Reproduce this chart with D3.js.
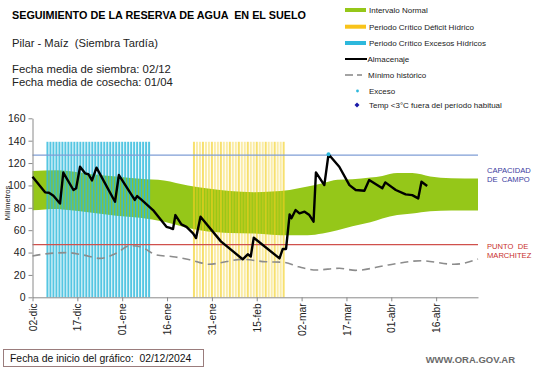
<!DOCTYPE html>
<html><head><meta charset="utf-8">
<script src="https://cdn.jsdelivr.net/npm/d3@7"></script>
<style>
html,body{margin:0;padding:0;background:#fff;}
svg{display:block;font-family:"Liberation Sans",Arial,sans-serif;}
</style></head>
<body><svg id="c" width="541" height="368"></svg>
<script>
// ---- data ----
const xTickDays = [0,15,30,45,60,75,90,105,120,135];
const xTickLabels = ["02-dic","17-dic","01-ene","16-ene","31-ene","15-feb","02-mar","17-mar","01-abr","16-abr"];
const yTicks = [0,20,40,60,80,100,120,140,160];

const bandDays  = [0,8,12,20,28,36,44,52,58,66,74,80,86,92,97,102,107,113,117,122,127,133,140,149];
const bandUpper = [113,113.5,113,110,108,106,104.5,100,97.5,95,94,94.5,96,99,102,105,105.5,107,108.5,111,111,108,106.5,106.3];
const bandLower = [77.7,79,78,75.5,73,71,67.5,62,59,57.5,57,56,55.5,55.5,57,60,63.5,67,70.5,73.5,75,77,77.5,77.5];

const minDays = [0,6,11.6,17,22.6,28,32.6,36,41.5,47,52.6,56,59,65,70,78,84,89,95,102.6,108,119,130,141,149];
const minHist = [36.9,39.3,39.9,37.8,34.8,39.3,46.1,45.2,37.8,36.3,33.5,31,29.5,32,33.9,31.8,31.3,27.3,24.4,25.9,24.1,28.9,32.7,29.5,34.2];

const almDays = [0,4.2,5.5,7,9.2,10.3,13.7,14.6,15.9,17.6,18.7,19.9,21.4,27.6,28.9,34.2,35,36.5,40.3,44.8,46,47,47.8,49.8,51.5,53.7,54.7,56.2,63,70.3,72,73,74,82.6,83.7,84.8,86,86.6,88,89.3,91,92.6,94,94.8,97.6,99,102.6,106,108.1,111,112.6,117,118,121.5,124.8,127,129,130.1,132];
const almacenaje = [107.8,93.8,93.5,90.8,83.8,111.5,95.9,97.5,116.7,110.8,110,104.5,115.9,85.4,109.3,87,90.5,87,78,63,62,61,73.5,65.2,63,57.2,53,72,50,34,38.4,36.5,53.3,34.8,43.2,43.2,74.1,70.6,78,75,76.5,73.5,67.6,111.7,100.3,127.8,116.7,100.3,95.9,95.3,104.8,97.4,102.7,95.9,92,91.3,88.4,103.3,99.5];

const excesoDays = [99];
const excesoVals = [127.8];

const periodoExcesoDays = [5,6,7,8,9,10,11,12,13,14,15,16,17,18,19,20,21,22,23,24,25,26,27,28,29,30,31,32,33,34,35,36,37,38,39];
const periodoDeficitDays = [54,55,56,57,58,59,60,61,62,63,64,65,66,67,68,69,70,71,72,73,74,75,76,77,78,79,80,81,82,83,84];
const periodoTop = 139;

const capacidadCampo = 127;
const puntoMarchitez = 47;

// ---- chart ----
const svg = d3.select("#c");
const x = d3.scaleLinear().domain([0,149]).range([32.5,478]);
const y = d3.scaleLinear().domain([0,160]).range([297.3,118.3]);

// band
const area = d3.area().x((d,i)=>x(bandDays[i])).y0((d,i)=>y(bandLower[i])).y1((d,i)=>y(bandUpper[i])).curve(d3.curveMonotoneX);
svg.append("path").attr("d", area(bandDays)).attr("fill","#95c719");

// critical periods (stripes)
const bw = 2;
svg.append("g").selectAll("rect").data(periodoExcesoDays).join("rect")
  .attr("x", d=>x(d)-bw/2).attr("width", bw)
  .attr("y", y(periodoTop)).attr("height", y(0)-y(periodoTop))
  .attr("fill","#30b9dc").attr("opacity",0.82);
svg.append("g").selectAll("rect").data(periodoDeficitDays).join("rect")
  .attr("x", d=>x(d)-bw/2).attr("width", bw)
  .attr("y", y(periodoTop)).attr("height", y(0)-y(periodoTop))
  .attr("fill","#f3cf20").attr("opacity",(d,i)=> i%3===0?0.65:0.4);

// reference lines
svg.append("line").attr("x1",x(0)).attr("x2",x(149)).attr("y1",y(capacidadCampo)).attr("y2",y(capacidadCampo))
  .attr("stroke","#7f9ed6").attr("stroke-width",1.3);
svg.append("line").attr("x1",x(0)).attr("x2",x(149)).attr("y1",y(puntoMarchitez)).attr("y2",y(puntoMarchitez))
  .attr("stroke","#d0504c").attr("stroke-width",1.3);

// minimum historic
const minLine = d3.line().x((d,i)=>x(minDays[i])).y((d,i)=>y(minHist[i])).curve(d3.curveMonotoneX);
svg.append("path").attr("d", minLine(minDays)).attr("fill","none")
  .attr("stroke","#8c8c8c").attr("stroke-width",1.6).attr("stroke-dasharray","8,5");

// axes
const xAxis = svg.append("g").attr("transform",`translate(0,${y(0)})`)
  .call(d3.axisBottom(x).tickValues(xTickDays).tickFormat((d,i)=>xTickLabels[i]).tickSize(4).tickSizeOuter(0));
xAxis.select(".domain").attr("stroke","#8a8a8a");
xAxis.selectAll(".tick line").attr("stroke","#8a8a8a");
xAxis.selectAll(".tick text").attr("transform","rotate(-90)").attr("text-anchor","end")
  .attr("x",-6).attr("y",0).attr("dy","0.35em").attr("font-size","10.3px").attr("fill","#222")
  .attr("font-family","Liberation Sans, Arial, sans-serif");

const yAxis = svg.append("g").attr("transform",`translate(${x(0)},0)`)
  .call(d3.axisLeft(y).tickValues(yTicks).tickSize(4).tickSizeOuter(0));
yAxis.select(".domain").attr("stroke","#8a8a8a");
yAxis.selectAll(".tick line").attr("stroke","#8a8a8a");
yAxis.selectAll(".tick text").attr("font-size","10.5px").attr("fill","#222").attr("x",-7)
  .attr("font-family","Liberation Sans, Arial, sans-serif");

svg.append("text").attr("transform","translate(10,203) rotate(-90)").attr("text-anchor","middle")
  .attr("font-size","7.5px").attr("fill","#222").text("Milímetros");

// storage line
const almLine = d3.line().x((d,i)=>x(almDays[i])).y((d,i)=>y(almacenaje[i]));
svg.append("path").attr("d", almLine(almDays)).attr("fill","none")
  .attr("stroke","#000").attr("stroke-width",2.4).attr("stroke-linejoin","round");

svg.append("g").selectAll("circle").data(excesoDays).join("circle")
  .attr("cx",d=>x(d)).attr("cy",(d,i)=>y(excesoVals[i])).attr("r",2).attr("fill","#2db8dc");

// right labels
svg.append("text").attr("x",487).attr("y",173).attr("font-size","7.6px").attr("fill","#3b3ba0").text("CAPACIDAD");
svg.append("text").attr("x",487).attr("y",182).attr("font-size","7.6px").attr("fill","#3b3ba0").attr("xml:space","preserve").text("DE  CAMPO");
svg.append("text").attr("x",487).attr("y",249).attr("font-size","7.6px").attr("fill","#c8302c").attr("xml:space","preserve").text("PUNTO  DE");
svg.append("text").attr("x",487).attr("y",258).attr("font-size","7.6px").attr("fill","#c8302c").text("MARCHITEZ");

// titles
svg.append("text").attr("x",12).attr("y",19).attr("font-size","10.8px").attr("font-weight","bold").attr("fill","#000")
  .attr("xml:space","preserve").text("SEGUIMIENTO DE LA RESERVA DE AGUA  EN EL SUELO");
svg.append("text").attr("x",12).attr("y",47).attr("font-size","11.2px").attr("fill","#222")
  .attr("xml:space","preserve").text("Pilar - Maíz  (Siembra Tardía)");
svg.append("text").attr("x",12).attr("y",73).attr("font-size","11.3px").attr("fill","#222").text("Fecha media de siembra: 02/12");
svg.append("text").attr("x",12).attr("y",86).attr("font-size","11.3px").attr("fill","#222").text("Fecha media de cosecha: 01/04");

// legend
const lg = svg.append("g").attr("font-size","8px").attr("fill","#222");
const lx = 345, tx = 369;
const legRows = [10,26.7,43,59,75,91,105];
lg.append("rect").attr("x",lx).attr("y",legRows[0]-2).attr("width",21).attr("height",4).attr("fill","#95c719");
lg.append("rect").attr("x",lx).attr("y",legRows[1]-2).attr("width",21).attr("height",4).attr("fill","#f8c31a");
lg.append("rect").attr("x",lx).attr("y",legRows[2]-2).attr("width",21).attr("height",4).attr("fill","#2db8dc");
lg.append("line").attr("x1",lx).attr("x2",lx+22).attr("y1",legRows[3]).attr("y2",legRows[3]).attr("stroke","#000").attr("stroke-width",2);
lg.append("line").attr("x1",lx).attr("x2",lx+8).attr("y1",legRows[4]).attr("y2",legRows[4]).attr("stroke","#8c8c8c").attr("stroke-width",1.6);
lg.append("line").attr("x1",lx+12).attr("x2",lx+17).attr("y1",legRows[4]).attr("y2",legRows[4]).attr("stroke","#8c8c8c").attr("stroke-width",1.6);
lg.append("circle").attr("cx",lx+12.5).attr("cy",legRows[5]).attr("r",1.4).attr("fill","#2db8dc");
lg.append("path").attr("d",`M${lx+12},${legRows[6]-2.5} l2.5,2.5 l-2.5,2.5 l-2.5,-2.5 z`).attr("fill","#1a1aa8");
const legTexts = ["Intervalo Normal","Periodo Crítico Déficit Hídrico","Periodo Crítico Excesos Hídricos","Almacenaje","Mínimo histórico","Exceso","Temp <3°C fuera del período habitual"];
const legTx = [tx,tx,tx,367.5,368,tx,tx];
lg.selectAll("text").data(legTexts).join("text").attr("x",(d,i)=>legTx[i]).attr("y",(d,i)=>legRows[i]+2.8).text(d=>d);

// footer
svg.append("rect").attr("x",3.5).attr("y",349.5).attr("width",200).attr("height",17).attr("fill","none").attr("stroke","#9a7c7c").attr("stroke-width",1);
svg.append("text").attr("x",10).attr("y",362).attr("font-size","10.4px").attr("fill","#111")
  .attr("xml:space","preserve").text("Fecha de inicio del gráfico:  02/12/2024");
svg.append("text").attr("x",515).attr("y",363).attr("text-anchor","end").attr("font-size","9.5px").attr("font-weight","bold").attr("fill","#6a6a6a").text("WWW.ORA.GOV.AR");
</script></body></html>
